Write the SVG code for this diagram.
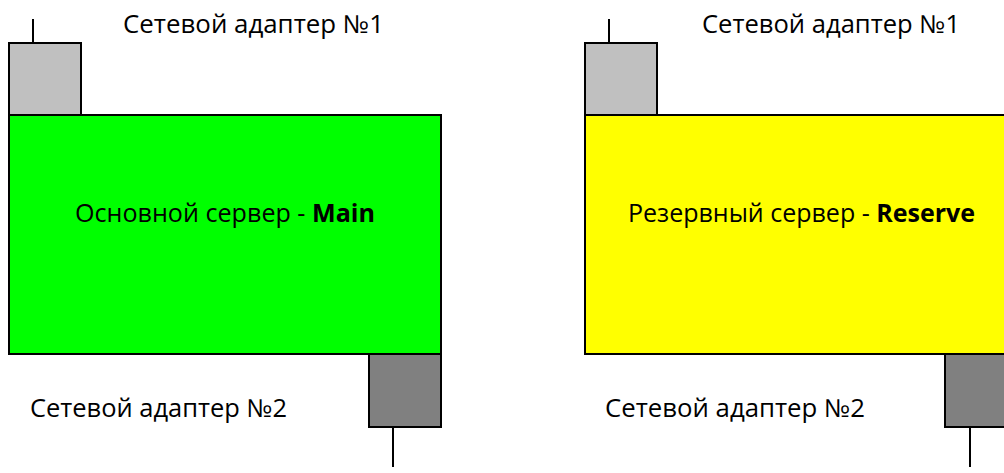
<svg xmlns="http://www.w3.org/2000/svg" width="1004" height="473" viewBox="0 0 1004 473">
<style>
.t{font-family:"Open Sans","Liberation Sans",sans-serif;font-size:25px;fill:#000}
.b{font-weight:bold}
.box{stroke:#000;stroke-width:2}
.ln{stroke:#000;stroke-width:2;fill:none}
</style>
<rect width="1004" height="473" fill="#fff"/>
<g id="connectors">
<line class="ln" x1="33" y1="19" x2="33" y2="43"/>
<line class="ln" x1="393" y1="427" x2="393" y2="467"/>
<line class="ln" x1="609" y1="19" x2="609" y2="43"/>
<line class="ln" x1="970" y1="427" x2="970" y2="467"/>
</g>
<g id="main-server">
<rect class="box" x="9" y="115" width="432" height="239" fill="#00ff00"/>
<text class="t" x="75" y="222" textLength="300" lengthAdjust="spacingAndGlyphs">Основной сервер - <tspan class="b">Main</tspan></text>
</g>
<g id="main-adapter1">
<rect class="box" x="9" y="43" width="72" height="72" fill="#c0c0c0"/>
<text class="t" x="123" y="33" textLength="261" lengthAdjust="spacingAndGlyphs">Сетевой адаптер №1</text>
</g>
<g id="main-adapter2">
<rect class="box" x="369" y="354" width="72" height="73" fill="#808080"/>
<text class="t" x="30" y="417" textLength="257" lengthAdjust="spacingAndGlyphs">Сетевой адаптер №2</text>
</g>
<g id="reserve-server">
<rect class="box" x="585" y="115" width="432" height="239" fill="#ffff00"/>
<text class="t" x="628" y="222" textLength="347" lengthAdjust="spacingAndGlyphs">Резервный сервер - <tspan class="b">Reserve</tspan></text>
</g>
<g id="reserve-adapter1">
<rect class="box" x="585" y="43" width="72" height="72" fill="#c0c0c0"/>
<text class="t" x="702" y="33" textLength="258" lengthAdjust="spacingAndGlyphs">Сетевой адаптер №1</text>
</g>
<g id="reserve-adapter2">
<rect class="box" x="945" y="354" width="72" height="73" fill="#808080"/>
<text class="t" x="605" y="417" textLength="260" lengthAdjust="spacingAndGlyphs">Сетевой адаптер №2</text>
</g>
</svg>
